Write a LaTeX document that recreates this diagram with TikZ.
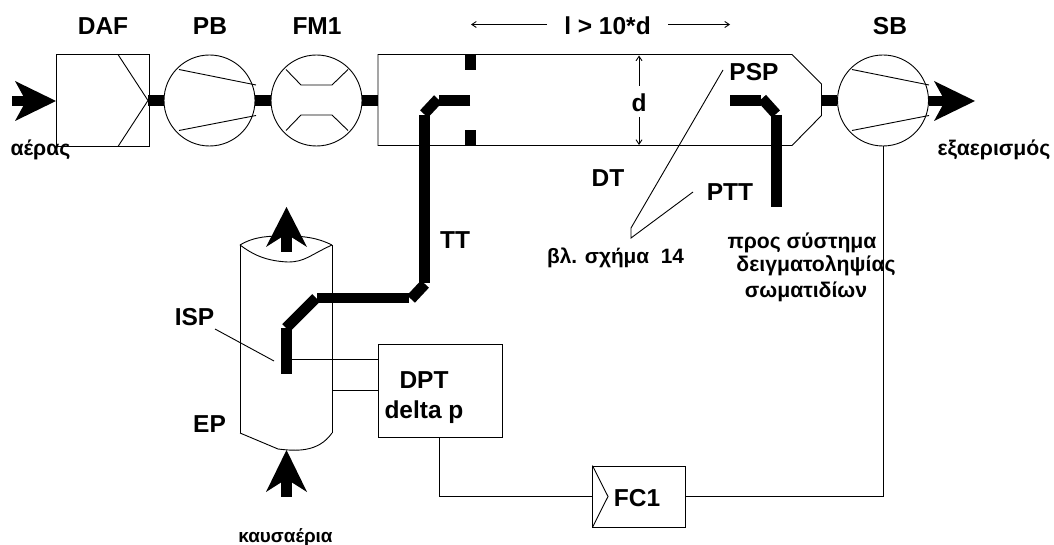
\documentclass[tikz,border=0pt]{standalone}
\usepackage{fontspec}
\setmainfont{Liberation Sans}
\usetikzlibrary{arrows.meta}
\tikzset{
  x=1pt,y=-1pt,
  thinline/.style={draw=black,line width=0.9pt},
  boxnode/.style={draw=black,line width=0.9pt,fill=none,rectangle,inner sep=0pt},
  roundnode/.style={draw=black,line width=0.9pt,circle,inner sep=0pt,minimum size=91pt},
  pipe/.style={draw=black,line width=10.8pt,line cap=butt},
  blackfill/.style={fill=black,draw=none},
  biglabel/.style={font=\fontsize{24.5}{26}\selectfont\bfseries,inner sep=0pt,anchor=base},
  smalllabel/.style={font=\fontsize{21.2}{23}\selectfont\bfseries,inner sep=0pt,anchor=base},
  dimarrow/.style={draw=black,line width=0.9pt,-{Straight Barb[length=4.5pt,width=6pt]}},
}
\begin{document}
\begin{tikzpicture}
\useasboundingbox (0,0) rectangle (1054,545);
% main line components
\node[boxnode,minimum width=93pt,minimum height=92.5pt] (daf) at (103,100.7) {};
\node[roundnode] (pb) at (209.5,100.5) {};
\node[roundnode] (fm) at (316.5,100.5) {};
\node[roundnode] (sb) at (883,100.5) {};
\draw[thinline] (378,54.5) coordinate (dtnw) -- (792,54.5) -- (821.5,84) -- (821.5,100.5) coordinate (dte) -- (821.5,115.5) -- (792,145.5) -- (378,145.5) coordinate (dtsw) -- cycle;
\coordinate (dtw) at (378,100.5);
% pipes between components
\draw[pipe] (148,100.5) coordinate (dafout) -- (pb.west);
\draw[pipe] (pb.east) -- (fm.west);
\draw[pipe] (fm.east) -- (dtw);
\draw[pipe] (dte) -- (sb.west);
% interior lines
\draw[thinline] (118,54.5) -- (148,100.5) -- (118,146.5);
\draw[thinline] (179,69.5) -- (256,85);
\draw[thinline] (179,130.5) -- (256,115.5);
\draw[thinline] (852,69.5) -- (929,85);
\draw[thinline] (852,130.5) -- (929,115.5);
\draw[thinline] (286,69.5) -- (301,85) -- (332,85) -- (348,69.5);
\draw[thinline] (286,130.5) -- (301,115) -- (332,115) -- (348,130.5);
% inlet arrow
\fill[blackfill] (12,95.8) rectangle (30,106.2);
\fill[blackfill] (56,101) coordinate (intip) -- (15,81) -- (26,101) -- (15,121) -- cycle;
% outlet arrow
\fill[blackfill] (929,95.8) rectangle (950,106.2);
\fill[blackfill] (975,101) -- (934,81) -- (945,101) -- (934,121) -- cycle;
% orifice
\fill[blackfill] (465,54.5) rectangle (476,70);
\fill[blackfill] (465,130) rectangle (476,145.5);
% transfer tube TT
\draw[pipe] (470,100.5) -- (439,100.5);
\draw[pipe] (438,99) -- (424,114);
\draw[pipe] (424.5,115) -- (424.5,283);
\draw[pipe] (425,284) -- (411,299);
\draw[pipe] (409,298) -- (317,298);
\draw[pipe] (316,298) -- (286,328);
\draw[pipe] (286.5,328) -- (286.5,374);
% PSP / PTT
\draw[pipe] (730,100.5) -- (761,100.5);
\draw[pipe] (762,98.5) -- (776,114);
\draw[pipe] (776.5,115) -- (776.5,207);
% stack
\draw[thinline] (240,245) .. controls (255,236) and (270,236) .. (286,236) .. controls (305,236) and (318,238) .. (332,245);
\draw[thinline] (240,245) .. controls (252,254) and (265,261) .. (288,262) .. controls (305,262) and (310,255) .. (332,245);
\draw[thinline] (240,245) -- (240,433);
\draw[thinline] (332,245) -- (332,293);
\draw[thinline] (332,303) -- (332,433);
\draw[thinline] (240,433) -- (278,449) .. controls (295,451) and (318,453) .. (332,433);
% stack arrows
\fill[blackfill] (281,230) rectangle (292,252.5);
\fill[blackfill] (286.5,207) -- (266,247) -- (286.5,234) -- (307,247) -- cycle;
\fill[blackfill] (281,475) rectangle (292,497);
\fill[blackfill] (286.5,450) -- (266,492) -- (286.5,479) -- (307,492) -- cycle;
% DPT, FC1
\node[boxnode,minimum width=124pt,minimum height=92.5pt] (dpt) at (440,390.7) {};
\node[boxnode,minimum width=92.3pt,minimum height=61pt] (fc) at (639,496.5) {};
\draw[thinline] (fc.north west) -- (608,496.5) -- (fc.south west);
\coordinate (ispjoin) at (292,359.5);
\coordinate (stackjoin) at (332,390);
\draw[thinline] (ispjoin) -- (ispjoin -| dpt.west);
\draw[thinline] (stackjoin) -- (stackjoin -| dpt.west);
\coordinate (dptfoot) at (439.5,437);
\draw[thinline] (dptfoot) |- (fc.west);
\draw[thinline] (fc.east) -| (sb.south);
% leaders
\draw[thinline] (215,329) -- (274,361);
\draw[thinline] (723,70) -- (631,228) -- (631,238) -- (693,192);
% dimensions
\draw[dimarrow] (547,24.5) -- (471,24.5);
\draw[dimarrow] (668,24.5) -- (730,24.5);
\draw[dimarrow] (639,86) -- (639,55.5);
\draw[dimarrow] (639,117) -- (639,145);
% labels
\node[biglabel] (tdaf) at (103,35) {DAF};
\node[biglabel] (tpb) at (210,35) {PB};
\node[biglabel] (tfm) at (317,35) {FM1};
\node[biglabel] (tl) at (607.5,35) {l > 10*d};
\node[biglabel] (tsb) at (890,35) {SB};
\node[biglabel] (td) at (639,112) {d};
\node[biglabel] (tpsp) at (754,81) {PSP};
\node[biglabel] (tdt) at (608,187) {DT};
\node[biglabel] (tptt) at (730,201) {PTT};
\node[biglabel] (ttt) at (455,249) {TT};
\node[biglabel] (tisp) at (194.5,325) {ISP};
\node[biglabel] (tep) at (209.5,432) {EP};
\node[biglabel] (tdpt) at (424,388) {DPT};
\node[biglabel] (tdelta) at (424,418) {delta p};
\node[biglabel] (tfc) at (637,506) {FC1};
\node[smalllabel] (tair) at (40.5,156) {αέρας};
\node[smalllabel] (tex) at (994,156) {εξαερισμός};
\node[smalllabel,font=\fontsize{20.8}{23}\selectfont\bfseries] (tref) at (615.5,263) {βλ. σχήμα~~14};
\node[smalllabel] (tto1) at (802,248) {προς σύστημα};
\node[smalllabel] (tto2) at (816,271) {δειγματοληψίας};
\node[smalllabel] (tto3) at (806,297) {σωματιδίων};
\node[smalllabel,font=\fontsize{18.9}{20}\selectfont\bfseries] (tflue) at (285.5,542) {καυσαέρια};
\end{tikzpicture}
\end{document}
